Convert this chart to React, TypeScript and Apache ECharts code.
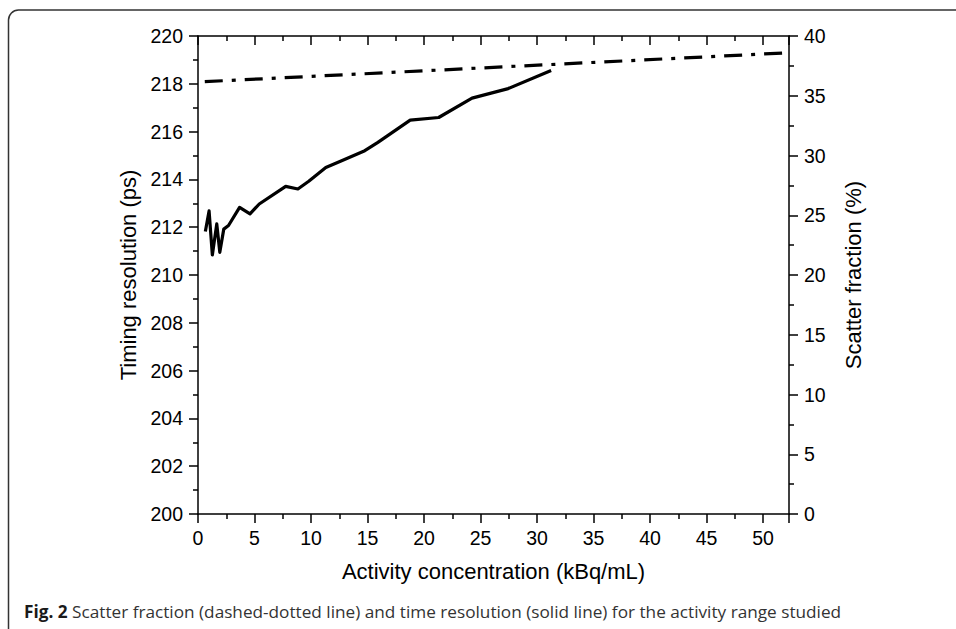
import React, { useEffect, useRef } from "react";
import * as echarts from "echarts";

// Timing resolution (solid line, left axis)
const timingX = [0.65, 0.98, 1.27, 1.66, 1.93, 2.28, 2.7, 3.68, 4.6, 5.42, 7.76, 8.84, 9.8, 11.31, 12.71, 14.76, 15.92, 18.78, 21.3, 24.25, 27.45, 31.25];
const timingY = [211.82, 212.68, 210.84, 212.14, 210.95, 211.92, 212.07, 212.83, 212.56, 212.97, 213.71, 213.6, 213.92, 214.5, 214.78, 215.2, 215.55, 216.48, 216.59, 217.4, 217.8, 218.56];

// Scatter fraction (dash-dot line, right axis)
const scatterX = [0.6, 52.3];
const scatterY = [36.18, 38.6];

const xTitle = "Activity concentration (kBq/mL)";
const yLeftTitle = "Timing resolution (ps)";
const yRightTitle = "Scatter fraction (%)";
const captionBold = "Fig. 2";
const captionText = " Scatter fraction (dashed-dotted line) and time resolution (solid line) for the activity range studied";

const FONT = "Liberation Sans";

export default function App() {
  const ref = useRef<HTMLDivElement>(null);
  useEffect(() => {
    if (!ref.current) return;
    const chart = echarts.init(ref.current, undefined, { renderer: "svg" });
    const axisLine = { show: true, onZero: false, lineStyle: { color: "#000", width: 1.5 } };
    const label = { color: "#000", fontFamily: FONT, fontSize: 19.5 };
    const nameStyle = { color: "#000", fontFamily: FONT, fontSize: 22 };
    chart.setOption({
      animation: false,
      backgroundColor: "#fff",
      grid: { left: 198, right: 167, top: 36, bottom: 115, containLabel: false },
      xAxis: [
        {
          type: "value",
          position: "bottom",
          min: 0,
          max: 52.3,
          interval: 5,
          axisLine,
          axisTick: { show: true, length: 9, lineStyle: { color: "#000", width: 1.5 } },
          minorTick: { show: true, splitNumber: 2, length: 5, lineStyle: { color: "#000", width: 1.5 } },
          axisLabel: { ...label, margin: 14, showMaxLabel: false },
          splitLine: { show: false },
          name: xTitle,
          nameLocation: "middle",
          nameGap: 46,
          nameTextStyle: nameStyle,
        },
        {
          type: "value",
          position: "top",
          min: 0,
          max: 52.3,
          interval: 5,
          axisLine,
          axisTick: { show: true, inside: true, length: 9, lineStyle: { color: "#000", width: 1.5 } },
          minorTick: { show: true, splitNumber: 2, length: 5, lineStyle: { color: "#000", width: 1.5 } },
          axisLabel: { show: false },
          splitLine: { show: false },
        },
      ],
      yAxis: [
        {
          type: "value",
          position: "left",
          min: 200,
          max: 220,
          interval: 2,
          axisLine,
          axisTick: { show: true, length: 9, lineStyle: { color: "#000", width: 1.5 } },
          minorTick: { show: true, splitNumber: 2, length: 5, lineStyle: { color: "#000", width: 1.5 } },
          axisLabel: { ...label, margin: 15 },
          splitLine: { show: false },
          name: yLeftTitle,
          nameLocation: "middle",
          nameRotate: 90,
          nameGap: 56,
          nameTextStyle: nameStyle,
        },
        {
          type: "value",
          position: "right",
          min: 0,
          max: 40,
          interval: 5,
          axisLine,
          axisTick: { show: true, length: 9, lineStyle: { color: "#000", width: 1.5 } },
          minorTick: { show: true, splitNumber: 2, length: 5, lineStyle: { color: "#000", width: 1.5 } },
          axisLabel: { ...label, margin: 15 },
          splitLine: { show: false },
          name: yRightTitle,
          nameLocation: "middle",
          nameRotate: 90,
          nameGap: 53,
          nameTextStyle: nameStyle,
        },
      ],
      series: [
        {
          type: "line",
          xAxisIndex: 0,
          yAxisIndex: 0,
          data: timingX.map((x, i) => [x, timingY[i]]),
          showSymbol: false,
          symbol: "none",
          lineStyle: { color: "#000", width: 3.2, join: "round" },
        },
        {
          type: "line",
          xAxisIndex: 0,
          yAxisIndex: 1,
          data: scatterX.map((x, i) => [x, scatterY[i]]),
          showSymbol: false,
          symbol: "none",
          lineStyle: { color: "#000", width: 3.2, type: [18, 9, 4, 9] },
        },
      ],
      graphic: [
        {
          type: "rect",
          shape: { x: 8.5, y: 10, width: 1000, height: 700, r: 10 },
          style: { fill: "none", stroke: "#333", lineWidth: 1.5 },
          silent: true,
        },
        {
          type: "text",
          x: 24,
          y: 611,
          style: {
            text: `{b|${captionBold}}{n|${captionText}}`,
            verticalAlign: "middle",
            rich: {
              b: { fontFamily: "Open Sans", fontWeight: "bold", fontSize: 17.2, fill: "#1a1a1a" },
              n: { fontFamily: "Open Sans", fontSize: 17.2, fill: "#333" },
            },
          },
        },
      ],
    });
    return () => chart.dispose();
  }, []);
  return <div ref={ref} style={{ position: "fixed", left: 0, top: 0, width: 956, height: 629 }} />;
}
